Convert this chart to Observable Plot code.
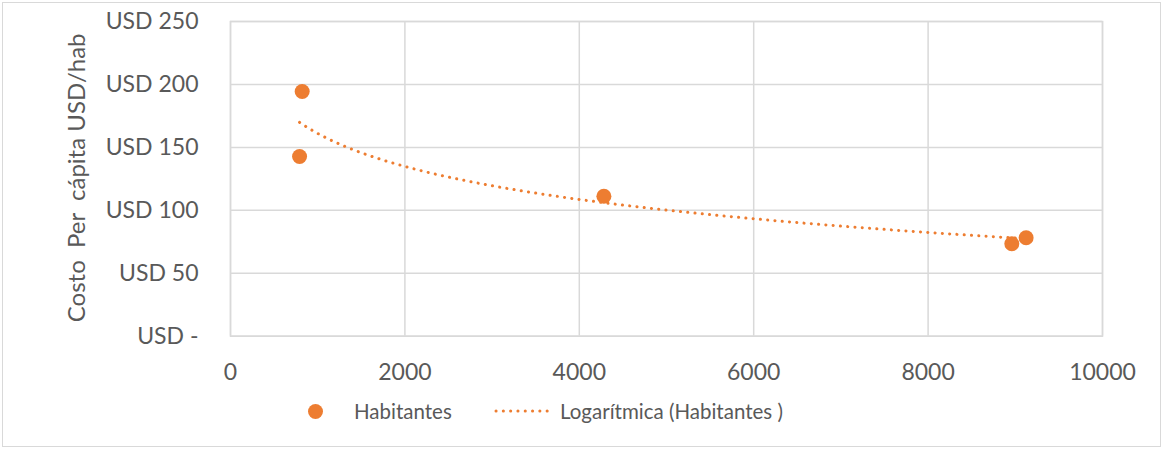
<!DOCTYPE html>
<html>
<head>
<meta charset="utf-8">
<script src="https://cdn.jsdelivr.net/npm/d3@7"></script>
<script src="https://cdn.jsdelivr.net/npm/@observablehq/plot@0.6"></script>
<style>
  body { margin: 0; background: #fff; font-family: Lato, "Open Sans", sans-serif; }
  #chart { position: relative; width: 1162px; height: 452px; overflow: hidden; }
  #border { position: absolute; left: 2px; top: 2px; width: 1159px; height: 445px; border: 1.5px solid #d9d9d9; box-sizing: border-box; pointer-events: none; }
  #legend { position: relative; width: 1162px; height: 62px; color: #595959; font-size: 20.5px; }
  #legend .item { position: absolute; line-height: 30px; top: 6px; white-space: nowrap; }
  #legend .sw { position: absolute; }
</style>
</head>
<body>
<div id="chart">
  <div id="plot"></div>
  <div id="legend"></div>
  <div id="border"></div>
</div>
<script>
// ---- data ----
const habitantes = [792, 822, 4282, 8960, 9124];
const costoPerCapita = [142.8, 194.4, 111.2, 73.4, 78.2];
const xTicks = [0, 2000, 4000, 6000, 8000, 10000];
const yTicks = [0, 50, 100, 150, 200, 250];
const yTickLabels = ["USD -", "USD 50", "USD 100", "USD 150", "USD 200", "USD 250"];
const yTitle = "Costo\u00a0 Per\u00a0 cápita USD/hab";
const seriesName = "Habitantes";
const trendName = "Logarítmica (Habitantes )";
const orange = "#ed7d31";

const points = habitantes.map((x, i) => ({x, y: costoPerCapita[i]}));

// logarithmic least-squares trendline y = a + b ln(x), fitted to the points
const lx = habitantes.map(Math.log);
const mx = d3.mean(lx), my = d3.mean(costoPerCapita);
const b = d3.sum(lx, (v, i) => (v - mx) * (costoPerCapita[i] - my)) / d3.sum(lx, v => (v - mx) ** 2);
const a = my - b * mx;
const [x0, x1] = d3.extent(habitantes);
const trend = d3.range(0, 201).map(k => {
  const x = x0 + (x1 - x0) * k / 200;
  return {x, y: a + b * Math.log(x)};
});

const grid = {stroke: "#d9d9d9", strokeOpacity: 1, strokeWidth: 1.5};

const chart = Plot.plot({
  width: 1162,
  height: 390,
  marginLeft: 230,
  marginRight: 60,
  marginTop: 21,
  marginBottom: 54.3,
  style: {fontFamily: "Lato, 'Open Sans', sans-serif", fontSize: "23px", color: "#595959", background: "transparent"},
  x: {domain: [0, 10000]},
  y: {domain: [0, 250]},
  marks: [
    Plot.gridX(xTicks, grid),
    Plot.gridY(yTicks, grid),
    Plot.frame(grid),
    Plot.axisX(xTicks, {tickSize: 0, tickPadding: 27, label: null, tickFormat: d => String(d), fill: "#595959", fontSize: 23}),
    Plot.axisY(yTicks, {tickSize: 0, tickPadding: 32, label: null, tickFormat: d => yTickLabels[yTicks.indexOf(d)], fill: "#595959", fontSize: 23}),
    Plot.text([yTitle], {text: d => d, frameAnchor: "left", textAnchor: "middle", dx: -153, dy: -1, rotate: -90, fontSize: 24, fill: "#595959"}),
    Plot.line(trend, {x: "x", y: "y", stroke: orange, strokeWidth: 3, strokeDasharray: "0.1 7.2", strokeLinecap: "round"}),
    Plot.dot(points, {x: "x", y: "y", r: 7.5, fill: orange, stroke: "none"})
  ]
});
document.getElementById("plot").appendChild(chart);

// ---- legend ----
const legend = d3.select("#legend");
legend.append("div").attr("class", "sw")
  .style("left", "307.5px").style("top", "14px")
  .style("width", "15px").style("height", "15px")
  .style("border-radius", "50%").style("background", orange);
legend.append("div").attr("class", "item").style("left", "354px").text(seriesName);
const sw = legend.append("svg").attr("class", "sw")
  .style("left", "493px").style("top", "16px")
  .attr("width", 64).attr("height", 10);
sw.append("line").attr("x1", 3).attr("x2", 61).attr("y1", 5).attr("y2", 5)
  .attr("stroke", orange).attr("stroke-width", 3)
  .attr("stroke-dasharray", "0.1 7.2").attr("stroke-linecap", "round");
legend.append("div").attr("class", "item").style("left", "560px").text(trendName);
</script>
</body>
</html>
